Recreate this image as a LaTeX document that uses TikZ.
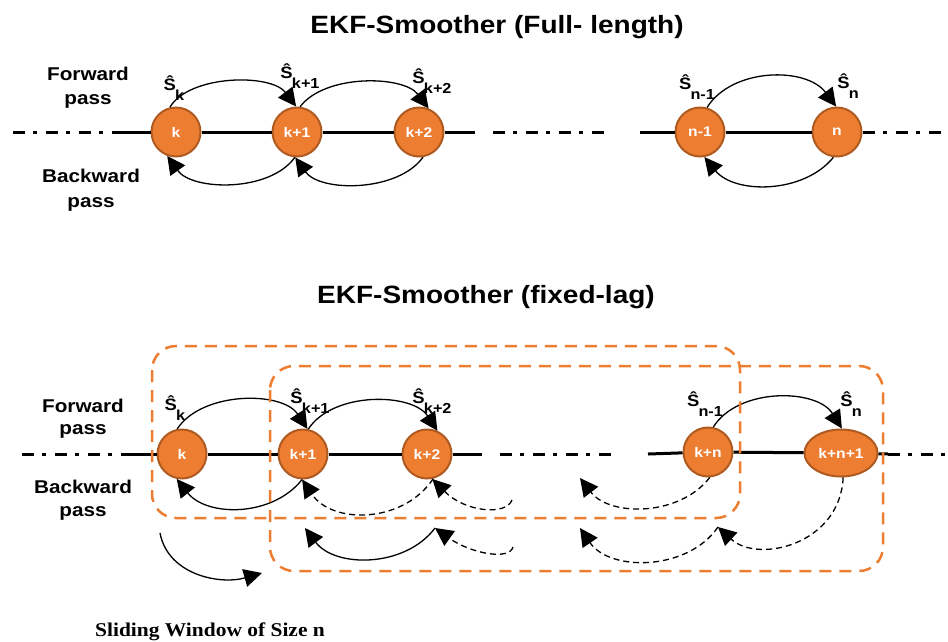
\documentclass[tikz,border=0pt]{standalone}
\usepackage{fontspec}
\setmainfont{Liberation Sans}
\newfontfamily\labelfont[FakeStretch=1.12]{Liberation Sans}
\newfontfamily\captionfont[FakeStretch=1.1]{Liberation Serif}
\usetikzlibrary{arrows.meta,shapes.geometric}
\definecolor{nodeorange}{HTML}{ED7D31}
\definecolor{nodeedge}{HTML}{AE5A21}
% estimate label: S-hat with a lowered index
\newcommand{\estlabel}[1]{Ŝ\raisebox{-0.65em}{\kern-0.05em\fontsize{14.5}{14.5}\selectfont #1}}
\tikzset{
  state/.style={circle, draw=nodeedge, line width=2pt, fill=nodeorange, text=white,
    font=\labelfont\bfseries\fontsize{14}{14}\selectfont, minimum size=49pt, inner sep=0pt},
  arc/.style={line width=1.3pt, -{Triangle[length=18pt,width=18pt]}},
  darc/.style={arc, dash pattern=on 6pt off 4pt},
  axis/.style={line width=3pt},
  dashdot/.style={axis, dash pattern=on 12pt off 8pt on 4pt off 9pt},
  window/.style={draw=nodeorange, line width=2.5pt, dash pattern=on 12pt off 8pt, rounded corners=24pt},
  lbl/.style={font=\labelfont\bfseries\fontsize{18.5}{18.5}\selectfont, anchor=base, inner sep=0pt},
  est/.style={font=\labelfont\bfseries\fontsize{16.5}{16.5}\selectfont, inner sep=0pt},
  title/.style={font=\labelfont\bfseries\fontsize{25}{25}\selectfont, anchor=base, inner sep=0pt}
}
\begin{document}
\begin{tikzpicture}[x=1pt,y=-1pt]
\useasboundingbox (0,0) rectangle (948,641);

% ---------- titles ----------
\node[title] (t1) at (497,33) {EKF-Smoother (Full- length)};
\node[title] (t2) at (486,303) {EKF-Smoother (fixed-lag)};

% ---------- full-length smoother ----------
\node[lbl] (f1) at (88,80) {Forward};
\node[lbl] (f2) at (88,104) {pass};
\node[lbl] (b1) at (91,182) {Backward};
\node[lbl] (b2) at (91,207) {pass};

\node[state] (k)  at (176,132) {k};
\node[state] (k1) at (297,132) {k+1};
\node[state] (k2) at (419,132) {k+2};
\node[state] (n1) at (700,132) {n-1};
\node[state] (n)  at (837,132) {n};

\coordinate (a0) at (13,132);
\coordinate (a1) at (123,132);
\coordinate (a2) at (475,132);
\coordinate (a3) at (493,132);
\coordinate (a4) at (607,132);
\coordinate (a5) at (640,132);
\coordinate (a6) at (942,132);
\draw[dashdot] (a0) -- (a1);
\draw[axis] (a1) -- (k) -- (k1) -- (k2) -- (a2);
\draw[dashdot] (a3) -- (a4);
\draw[axis] (a5) -- (n1) -- (n);
\draw[dashdot] (n) -- (a6);

\draw[arc] (k.104) .. controls +(20,-33) and +(-25,-33) .. (k1.92);
\draw[arc] (k1.83) .. controls +(25,-33) and +(-25,-33) .. (k2.68);
\draw[arc] (k1.265) .. controls +(-25,35) and +(25,35) .. (k.250);
\draw[arc] (k2.279) .. controls +(-25,35) and +(25,35) .. (k1.266);
\draw[arc] (n1.74) .. controls +(25,-40) and +(-30,-40) .. (n.92);
\draw[arc] (n.262) .. controls +(-30,37) and +(30,37) .. (n1.280);

\node[est] (sk)  at (174,88) {\estlabel{k}};
\node[est] (sk1) at (300,76) {\estlabel{k+1}};
\node[est] (sk2) at (432,81) {\estlabel{k+2}};
\node[est] (sn1) at (697,87) {\estlabel{n-1}};
\node[est] (sn)  at (848,86) {\estlabel{n}};

% ---------- fixed-lag smoother ----------
\node[lbl] (f3) at (83,412) {Forward};
\node[lbl] (f4) at (83,434) {pass};
\node[lbl] (b3) at (83,493) {Backward};
\node[lbl] (b4) at (83,516) {pass};

\node[state] (m0) at (182,454) {k};
\node[state] (m1) at (303,454) {k+1};
\node[state] (m2) at (427,454) {k+2};
\node[state] (m3) at (708,452) {k+n};
\node[state, ellipse, minimum width=73pt, minimum height=47pt] (m4) at (841,453) {k+n+1};

\coordinate (c0) at (22,454);
\coordinate (c1) at (123,454);
\coordinate (c2) at (482,454);
\coordinate (c3) at (500,454);
\coordinate (c4) at (613,454);
\coordinate (c5) at (648,454);
\coordinate (c6) at (888,454);
\coordinate (c7) at (947,454);
\draw[dashdot] (c0) -- (c1);
\draw[axis] (c1) -- (m0) -- (m1) -- (m2) -- (c2);
\draw[dashdot] (c3) -- (c4);
\draw[axis] (c5) -- (m3) -- (m4) -- (c6);
\draw[dashdot] (c6) -- (c7);

% forward pass
\draw[arc] (m0.101) .. controls +(25,-38) and +(-25,-38) .. (m1.80);
\draw[arc] (m1.78) .. controls +(25,-38) and +(-25,-38) .. (m2.66);
\draw[arc] (m3.78) .. controls +(25,-40) and +(-25,-40) .. (m4.88);

% backward pass, first window
\coordinate (d1) at (512,500);
\coordinate (d2) at (580,478);
\draw[arc] (m1.268) .. controls +(-30,38) and +(30,38) .. (m0.258);
\draw[darc] (m2.284) .. controls +(-30,45) and +(30,45) .. (m1.268);
\draw[darc] (d1) .. controls (506,516) and (465,512) .. (m2.282);
\draw[darc] (m3.274) .. controls +(-30,39) and +(30,39) .. (d2);

% backward pass, second window
\coordinate (r1) at (305,528);
\coordinate (r2) at (435,528);
\coordinate (r3) at (513,547);
\coordinate (r4) at (580,528);
\coordinate (r5) at (718,527);
\draw[arc] (r2) .. controls +(-30,40) and +(30,40) .. (r1);
\draw[darc] (r3) .. controls +(-4,14) and +(35,25) .. (r2);
\draw[darc] (r5) .. controls +(-30,44) and +(30,44) .. (r4);
\draw[darc] (m4.275) .. controls +(-3,67) and +(40,37) .. (r5);

\node[est] (tk)  at (175,408) {\estlabel{k}};
\node[est] (tk1) at (310,401) {\estlabel{k+1}};
\node[est] (tk2) at (432,401) {\estlabel{k+2}};
\node[est] (tn1) at (705,404) {\estlabel{n-1}};
\node[est] (tn)  at (851,404) {\estlabel{n}};

% sliding windows
\draw[window] (152,346) rectangle (740,518);
\draw[window] (270,366) rectangle (883,571);

\coordinate (s1) at (160,533);
\coordinate (s2) at (262,573);
\draw[arc] (s1) .. controls (168,575) and (220,585) .. (s2);

\node[anchor=base, inner sep=0pt, font=\captionfont\bfseries\fontsize{19.5}{19.5}\selectfont] (cap) at (210,636) {Sliding Window of Size n};
\end{tikzpicture}
\end{document}
